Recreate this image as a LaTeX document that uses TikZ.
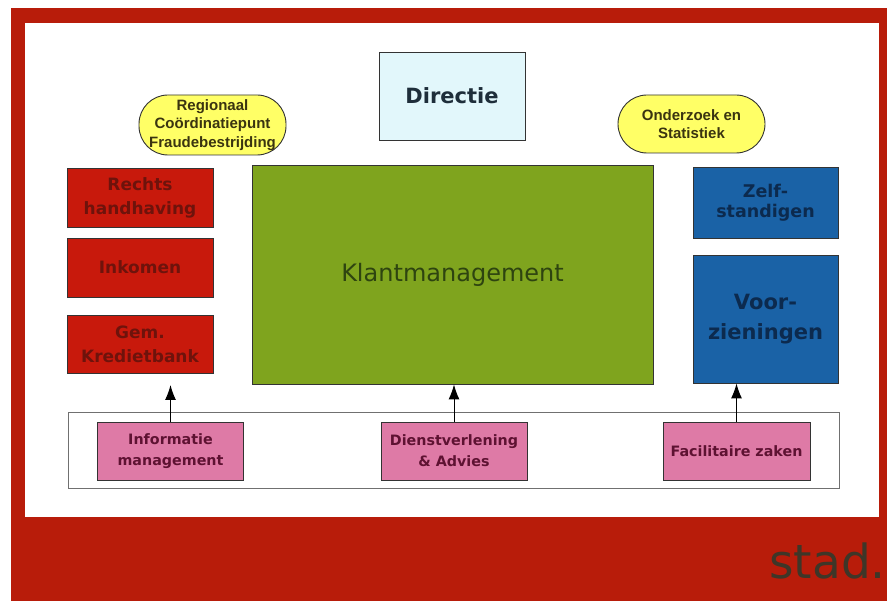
\documentclass[tikz,border=0pt]{standalone}
\usepackage{fontspec}
\setmainfont{DejaVu Sans}
\newfontfamily\arialfont{Liberation Sans}
\usetikzlibrary{arrows.meta}
\definecolor{frame}{HTML}{B81C0A}
\definecolor{redbox}{HTML}{C8190C}
\definecolor{redtxt}{HTML}{6E130C}
\definecolor{greenbox}{HTML}{7FA41E}
\definecolor{greentxt}{HTML}{2E4410}
\definecolor{bluebox}{HTML}{1A62A6}
\definecolor{bluetxt}{HTML}{0C2A4E}
\definecolor{pinkbox}{HTML}{DE7AA6}
\definecolor{pinktxt}{HTML}{5E1232}
\definecolor{cyanbox}{HTML}{E2F7FB}
\definecolor{dirtxt}{HTML}{1E2E3A}
\definecolor{yelbox}{HTML}{FFFF66}
\definecolor{yeltxt}{HTML}{3A3410}
\definecolor{edge}{HTML}{333333}
\definecolor{stadtxt}{HTML}{3E3628}
\tikzset{
  box/.style={draw=edge, line width=0.9pt, inner sep=0pt, align=center, rectangle},
  redunit/.style={box, fill=redbox, text=redtxt, font=\bfseries\fontsize{17}{24}\selectfont, minimum width=146pt},
  blueunit/.style={box, fill=bluebox, text=bluetxt, minimum width=145pt},
  pinkunit/.style={box, fill=pinkbox, text=pinktxt, font=\bfseries\fontsize{14.3}{21}\selectfont, minimum width=146pt, minimum height=58pt},
  pill/.style={box, fill=yelbox, text=yeltxt, rounded corners=29pt, font=\arialfont\bfseries\fontsize{15}{18.5}\selectfont},
  uparrow/.style={draw=black, line width=1pt, -{Latex[length=15pt,width=11pt]}}
}
\begin{document}
\begin{tikzpicture}[x=1pt,y=-1pt]
\useasboundingbox (0,0) rectangle (887,601);
\fill[white] (0,0) rectangle (887,601);
% frame
\fill[frame] (11,8) rectangle (887,601);
\fill[white] (25,23) rectangle (879,517);
\node[font=\fontsize{47}{52}\selectfont, text=stadtxt, anchor=base east, inner sep=0pt] (stad) at (886,579) {stad.};

% top
\node[box, fill=cyanbox, text=dirtxt, font=\bfseries\fontsize{21}{26}\selectfont, minimum width=146pt, minimum height=88pt] (dir) at (452,96) {Directie};
\node[pill, minimum width=147pt, minimum height=60pt] (rcf) at (212.5,125) {Regionaal\\Coördinatiepunt\\Fraudebestrijding};
\node[pill, minimum width=147pt, minimum height=58pt] (ons) at (691.5,124) {Onderzoek en\\Statistiek};

% left units
\node[redunit, minimum height=59pt] (rh) at (140,197.5) {Rechts\\handhaving};
\node[redunit, minimum height=59pt] (ink) at (140,267.5) {Inkomen};
\node[redunit, minimum height=58pt] (gkb) at (140,344) {Gem.\\Kredietbank};

% centre
\node[box, fill=greenbox, text=greentxt, font=\fontsize{24}{28}\selectfont, minimum width=401pt, minimum height=219pt] (km) at (452.5,274.5) {Klantmanagement};

% right units
\node[blueunit, font=\bfseries\fontsize{17.5}{20}\selectfont, minimum height=71pt] (zs) at (765.5,202.5) {Zelf-\\standigen};
\node[blueunit, font=\bfseries\fontsize{21}{30}\selectfont, minimum height=128pt] (vz) at (765.5,319) {Voor-\\zieningen};

% bottom strip
\node[draw=edge!70, line width=0.8pt, fill=white, minimum width=771pt, minimum height=76pt, inner sep=0pt] (strip) at (453.5,450) {};
\node[pinkunit] (im) at (170.5,451) {Informatie\\management};
\node[pinkunit] (dv) at (454,451) {Dienstverlening\\\& Advies};
\node[pinkunit, minimum width=147pt] (fz) at (736.5,451) {Facilitaire zaken};

% arrows
\coordinate (imtip) at (im.north |- 0,385);
\draw[uparrow] (im.north) -- (imtip);
\draw[uparrow] (dv.north) -- (dv.north |- km.south);
\draw[uparrow] (fz.north) -- (fz.north |- vz.south);
\end{tikzpicture}
\end{document}
